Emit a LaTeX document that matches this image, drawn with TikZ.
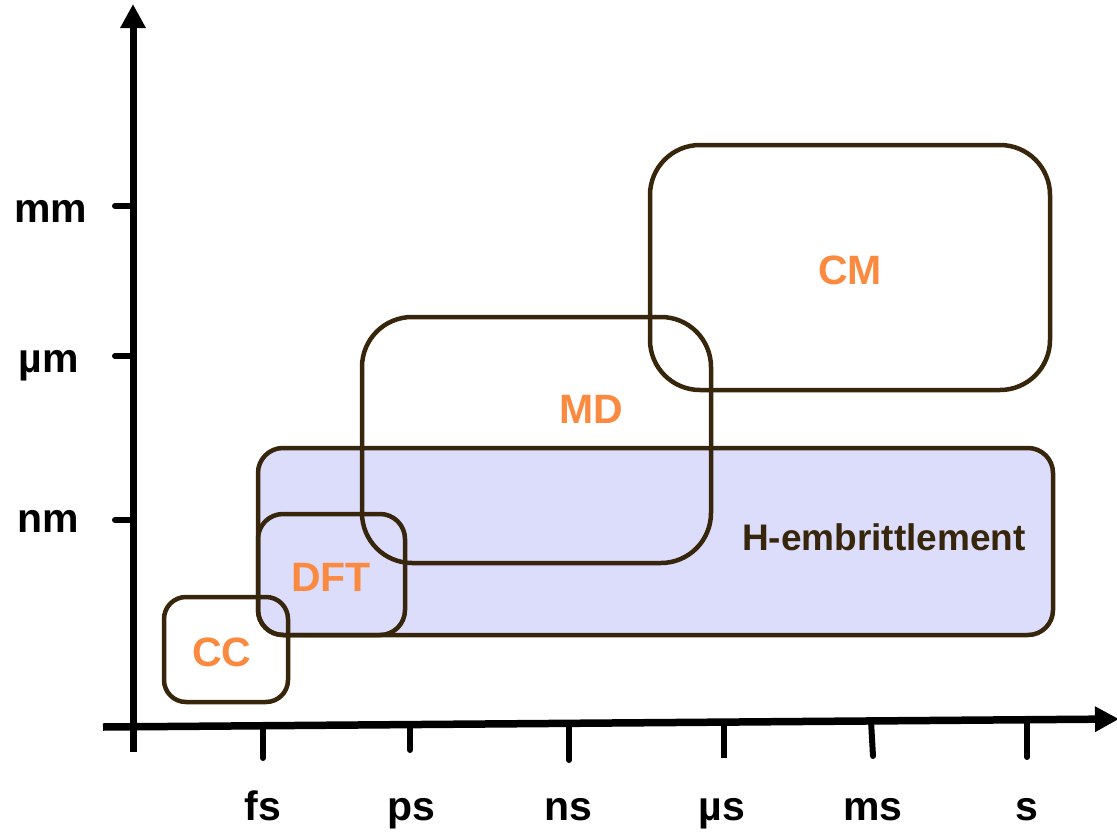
\documentclass[tikz,border=0pt]{standalone}
\usepackage{fontspec}
\setmainfont{Liberation Sans}
\usetikzlibrary{arrows.meta}
\definecolor{boxbrown}{RGB}{55,38,12}
\definecolor{labelorange}{RGB}{250,138,64}
\definecolor{hfill}{RGB}{220,220,251}
\tikzset{
	scalebox/.style={line width=4.5pt, color=boxbrown, rounded corners=#1},
	method/.style={font=\bfseries\fontsize{41}{41}\selectfont, text=labelorange},
	unitlabel/.style={font=\bfseries\fontsize{41}{41}\selectfont, text=black, anchor=base},
	axistick/.style={line width=6pt, line cap=round}
}

\begin{document}
\begin{tikzpicture}[x=1pt, y=-1pt]
		%%%%% START %%%%%
		\useasboundingbox (0, 0) rectangle (1117, 833);
		
		% axes
		\draw[line width=7pt, -{Triangle[width=24pt, length=24pt]}] (133, 752) -- (133, 4);
		\draw[line width=7.5pt, -{Triangle[width=24pt, length=24pt]}] (103, 727) -- (1119, 719);
		
		% length ticks
		\draw[axistick] (115, 206) -- (133, 206);
		\draw[axistick] (115, 356) -- (133, 356);
		\draw[axistick] (115, 520) -- (133, 520);
		
		% time ticks
		\draw[axistick] (263, 726) -- (263, 758);
		\draw[axistick] (410, 725) -- (410, 750);
		\draw[axistick] (569, 724) -- (569, 760);
		\draw[axistick, line cap=butt] (724, 723) -- (724, 758);
		\draw[axistick] (871, 721) -- (873, 756);
		\draw[axistick] (1027, 720) -- (1027, 757);
		
		\node[unitlabel] (mm) at (51, 222) {mm};
		\node[unitlabel] (um) at (49, 372) {µm};
		\node[unitlabel] (nm) at (48, 532) {nm};
		
		\node[unitlabel] (fs) at (263, 820) {fs};
		\node[unitlabel] (ps) at (411, 820) {ps};
		\node[unitlabel] (ns) at (568, 820) {ns};
		\node[unitlabel] (us) at (722, 820) {µs};
		\node[unitlabel] (ms) at (873, 820) {ms};
		\node[unitlabel] (s) at (1027, 820) {s};
		
		% scale boxes
		\fill[hfill, rounded corners=25pt] (258, 448) rectangle (1053, 635);
		\draw[scalebox=25pt] (258, 448) rectangle (1053, 635);
		\draw[scalebox=50pt] (650, 145) rectangle (1050, 390);
		\draw[scalebox=50pt] (362, 317) rectangle (711, 563);
		\draw[scalebox=25pt] (258, 514) rectangle (405, 635);
		\draw[scalebox=22pt] (164, 597) rectangle (288, 702);
		
		\node[method] (cc) at (222, 652) {CC};
		\node[method] (dft) at (331, 577) {DFT};
		\node[method] (md) at (591, 409) {MD};
		\node[method] (cm) at (850, 270) {CM};
		\node[font=\bfseries\fontsize{37}{37}\selectfont, text=boxbrown] (hemb) at (884, 537) {H-embrittlement};
		
		%%%%% END %%%%%
\end{tikzpicture}
\end{document}
